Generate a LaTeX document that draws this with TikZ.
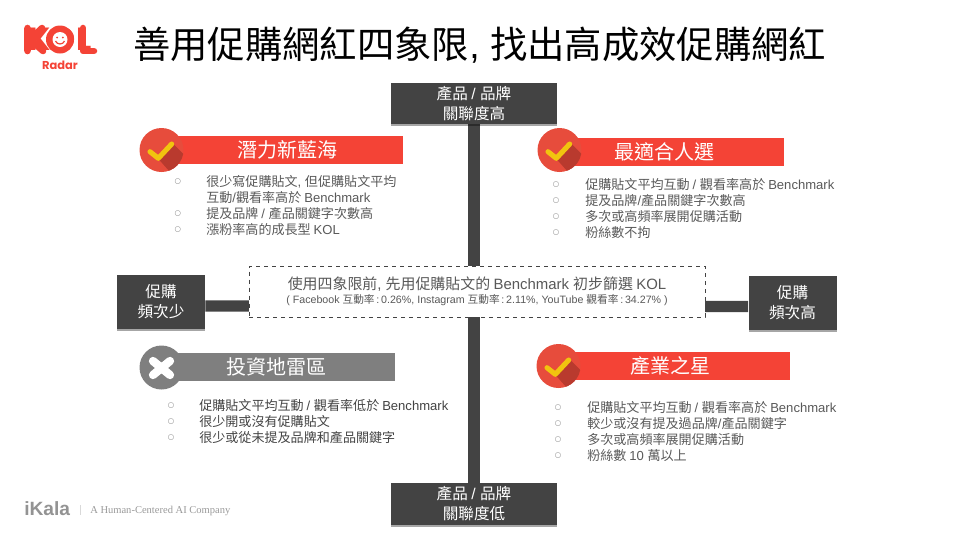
\documentclass[tikz,border=0pt]{standalone}
\usepackage{fontspec}
\usetikzlibrary{shadows,backgrounds,positioning}
\setmainfont{Liberation Sans}
\newfontfamily\latinfont{Liberation Sans}
\newfontfamily\cjkfont{Noto Sans CJK TC}
\newfontfamily\serifnote{Liberation Serif}
\newfontfamily\dotfont{DejaVu Sans}
\newfontfamily\kolfont{Poppins}
% Latin and CJK runs pick their own font
\newXeTeXintercharclass\cjkclass
\count255="3000
\loop\ifnum\count255<"A000
  \XeTeXcharclass\count255=\cjkclass
  \advance\count255 by 1
\repeat
\XeTeXinterchartoks 4095 \cjkclass={\cjkfont}
\XeTeXinterchartoks 0 \cjkclass={\cjkfont}
\XeTeXinterchartoks 4095 0={\latinfont}
\XeTeXinterchartoks \cjkclass 0={\latinfont}
\def\cjkon{\XeTeXinterchartokenstate=1 }
\definecolor{boxgray}{HTML}{434343}
\definecolor{bodygray}{HTML}{595959}
\definecolor{kolred}{HTML}{F44336}
\definecolor{badgered}{HTML}{E74C3C}
\definecolor{badgedark}{HTML}{B93A2E}
\definecolor{checkyellow}{HTML}{F1C40F}
\definecolor{xgray}{HTML}{7F7F7F}
\tikzset{
  axisbox/.style={fill=boxgray,text=white,align=center,inner sep=0pt,
    font=\cjkon\fontsize{11.7}{15}\selectfont,
    drop shadow={shadow xshift=0pt,shadow yshift=-1.5pt,opacity=.35,fill=black}},
  axisline/.style={draw=boxgray,line width=8.5pt},
  headbar/.style={text=white,inner sep=0pt,minimum height=21pt,
    font=\cjkon\fontsize{15}{18}\selectfont},
  badge/.style={circle,fill=badgered,inner sep=0pt,minimum size=33pt},
  bodytext/.style={anchor=west,inner sep=0pt,text=bodygray,
    font=\cjkon\fontsize{9.8}{12}\selectfont},
  bulletdot/.style={inner sep=0pt,text=gray,font=\dotfont\fontsize{5.5}{7}\selectfont},
  kolstroke/.style={draw=kolred,line width=4.9pt,line cap=round,line join=round},
}
\begin{document}
\begin{tikzpicture}[x=0.75pt,y=-0.75pt]
\useasboundingbox (0,0) rectangle (960,540);

%logo
\node[inner sep=0pt,text=kolred,font=\kolfont\bfseries\fontsize{24}{25}\selectfont] (kolname) at (60,39.5) {KOL};
\draw[kolstroke] (27.5,28) -- (27.5,51) (42,28) -- (30,39.5) -- (43,51);
\draw[kolstroke] (83,28) -- (83,51) -- (94,51);
\fill[kolred] (60,39.5) circle (14);
\fill[white] (60,39.5) circle (7.5);
\fill[kolred] (57.2,37.5) circle (1) (62.8,37.5) circle (1);
\draw[kolred,line width=0.9pt] (55.5,41) .. controls (57,45) and (63,45) .. (64.5,41);
\node[inner sep=0pt,text=kolred,font=\kolfont\bfseries\fontsize{8.6}{10}\selectfont] (kolradar) at (60,65.5) {Radar};

%title
\node[anchor=west,inner sep=0pt,font=\cjkon\fontsize{28}{32}\selectfont] (maintitle) at (133,45)
{善用促購網紅四象限, 找出高成效促購網紅};

%axis boxes
\node[axisbox,minimum width=124.5pt,minimum height=31pt] (relhigh) at (474,103.5) {產品 / 品牌\\關聯度高};
\node[axisbox,minimum width=124.5pt,minimum height=31pt] (rellow) at (474,504) {產品 / 品牌\\關聯度低};
\node[axisbox,minimum width=66pt,minimum height=40.5pt] (freqlow) at (161,302) {促購\\頻次少};
\node[axisbox,minimum width=66pt,minimum height=40.5pt] (freqhigh) at (792.5,302.5) {促購\\頻次高};

%dashed note
\node[draw=boxgray,dashed,fill=white,align=center,inner sep=0pt,minimum width=342pt,minimum height=38pt,
  text=bodygray,font=\cjkon\fontsize{11.2}{11.5}\selectfont] (prefilter) at (477,291.5)
{使用四象限前, 先用促購貼文的 Benchmark 初步篩選 KOL\\[-1.25pt]
\fontsize{8}{10}\selectfont ( Facebook 互動率\,:\,0.26\%, Instagram 互動率\,:\,2.11\%, YouTube 觀看率\,:\,34.27\% )};

\begin{pgfonlayer}{background}
\draw[axisline] (relhigh) -- (rellow);
\draw[axisline] ([yshift=-3pt]freqlow.east) -- ([yshift=-3pt]freqhigh.west);
\end{pgfonlayer}

%header bars
\node[headbar,fill=kolred,minimum width=173pt] (hdpotential) at (287.5,150) {潛力新藍海};
\node[headbar,fill=kolred,minimum width=180pt] (hdbest) at (664,152) {最適合人選};
\node[headbar,fill=xgray,minimum width=178.5pt] (hdrisk) at (276,367) {投資地雷區};
\node[headbar,fill=kolred,minimum width=180pt] (hdstar) at (670,366) {產業之星};

%check badges
\foreach \cx/\cy/\bname in {161.5/150/bdpotential,559.5/150/bdbest,558.5/366/bdstar}{
\begin{scope}[shift={(\cx,\cy)}]
\node[badge] (\bname) at (0,0) {};
\begin{scope}
\clip (0,0) circle (22);
\fill[badgedark] (-3,9) -- (11,-7) -- (35,17) -- (20,35) -- cycle;
\end{scope}
\draw[checkyellow,line width=3.8pt,line cap=round,line join=round]
(-11.5,1.7) -- (-3.2,8.3) -- (10.2,-6);
\end{scope}
}

%x badge
\node[badge,fill=xgray] (bdrisk) at (161.5,367.5) {};
\draw[white,line width=6.2pt,line cap=round]
(153,361) -- (170,375) (170,361) -- (153,375);

%potential list
\foreach \ly/\ltext in {182/{很少寫促購貼文, 但促購貼文平均},214/{提及品牌 / 產品關鍵字次數高},230/{漲粉率高的成長型 KOL}}{
\node[bulletdot] at (177.7,\ly) {○};
\node[bodytext] at (206,\ly) {\ltext};
}
\node[bodytext] (potentialcont) at (206,198) {互動/觀看率高於 Benchmark};

%best list
\foreach \ly/\ltext in {185/{促購貼文平均互動 / 觀看率高於 Benchmark},201/{提及品牌/產品關鍵字次數高},217/{多次或高頻率展開促購活動},233/{粉絲數不拘}}{
\node[bulletdot] at (556,\ly) {○};
\node[bodytext] at (585,\ly) {\ltext};
}

%risk list
\foreach \ly/\ltext in {406/{促購貼文平均互動 / 觀看率低於 Benchmark},422/{很少開或沒有促購貼文},438/{很少或從未提及品牌和產品關鍵字}}{
\node[bulletdot] at (171,\ly) {○};
\node[bodytext,text=boxgray] at (199,\ly) {\ltext};
}

%star list
\foreach \ly/\ltext in {407.7/{促購貼文平均互動 / 觀看率高於 Benchmark},423.7/{較少或沒有提及過品牌/產品關鍵字},439.7/{多次或高頻率展開促購活動},455.7/{粉絲數 10 萬以上}}{
\node[bulletdot] at (558,\ly) {○};
\node[bodytext] at (587,\ly) {\ltext};
}

%footer
\node[anchor=west,inner sep=0pt,text=gray!85,font=\bfseries\fontsize{14.4}{16}\selectfont] (ikalaname) at (24,508.5) {iKala};
\draw[gray!30,line width=0.4pt] (80,505) -- (80,515);
\node[anchor=west,inner sep=0pt,text=gray!80,font=\serifnote\fontsize{7.9}{10}\selectfont] (ikalatag) at (90,510.5) {A Human-Centered AI Company};
\end{tikzpicture}
\end{document}
